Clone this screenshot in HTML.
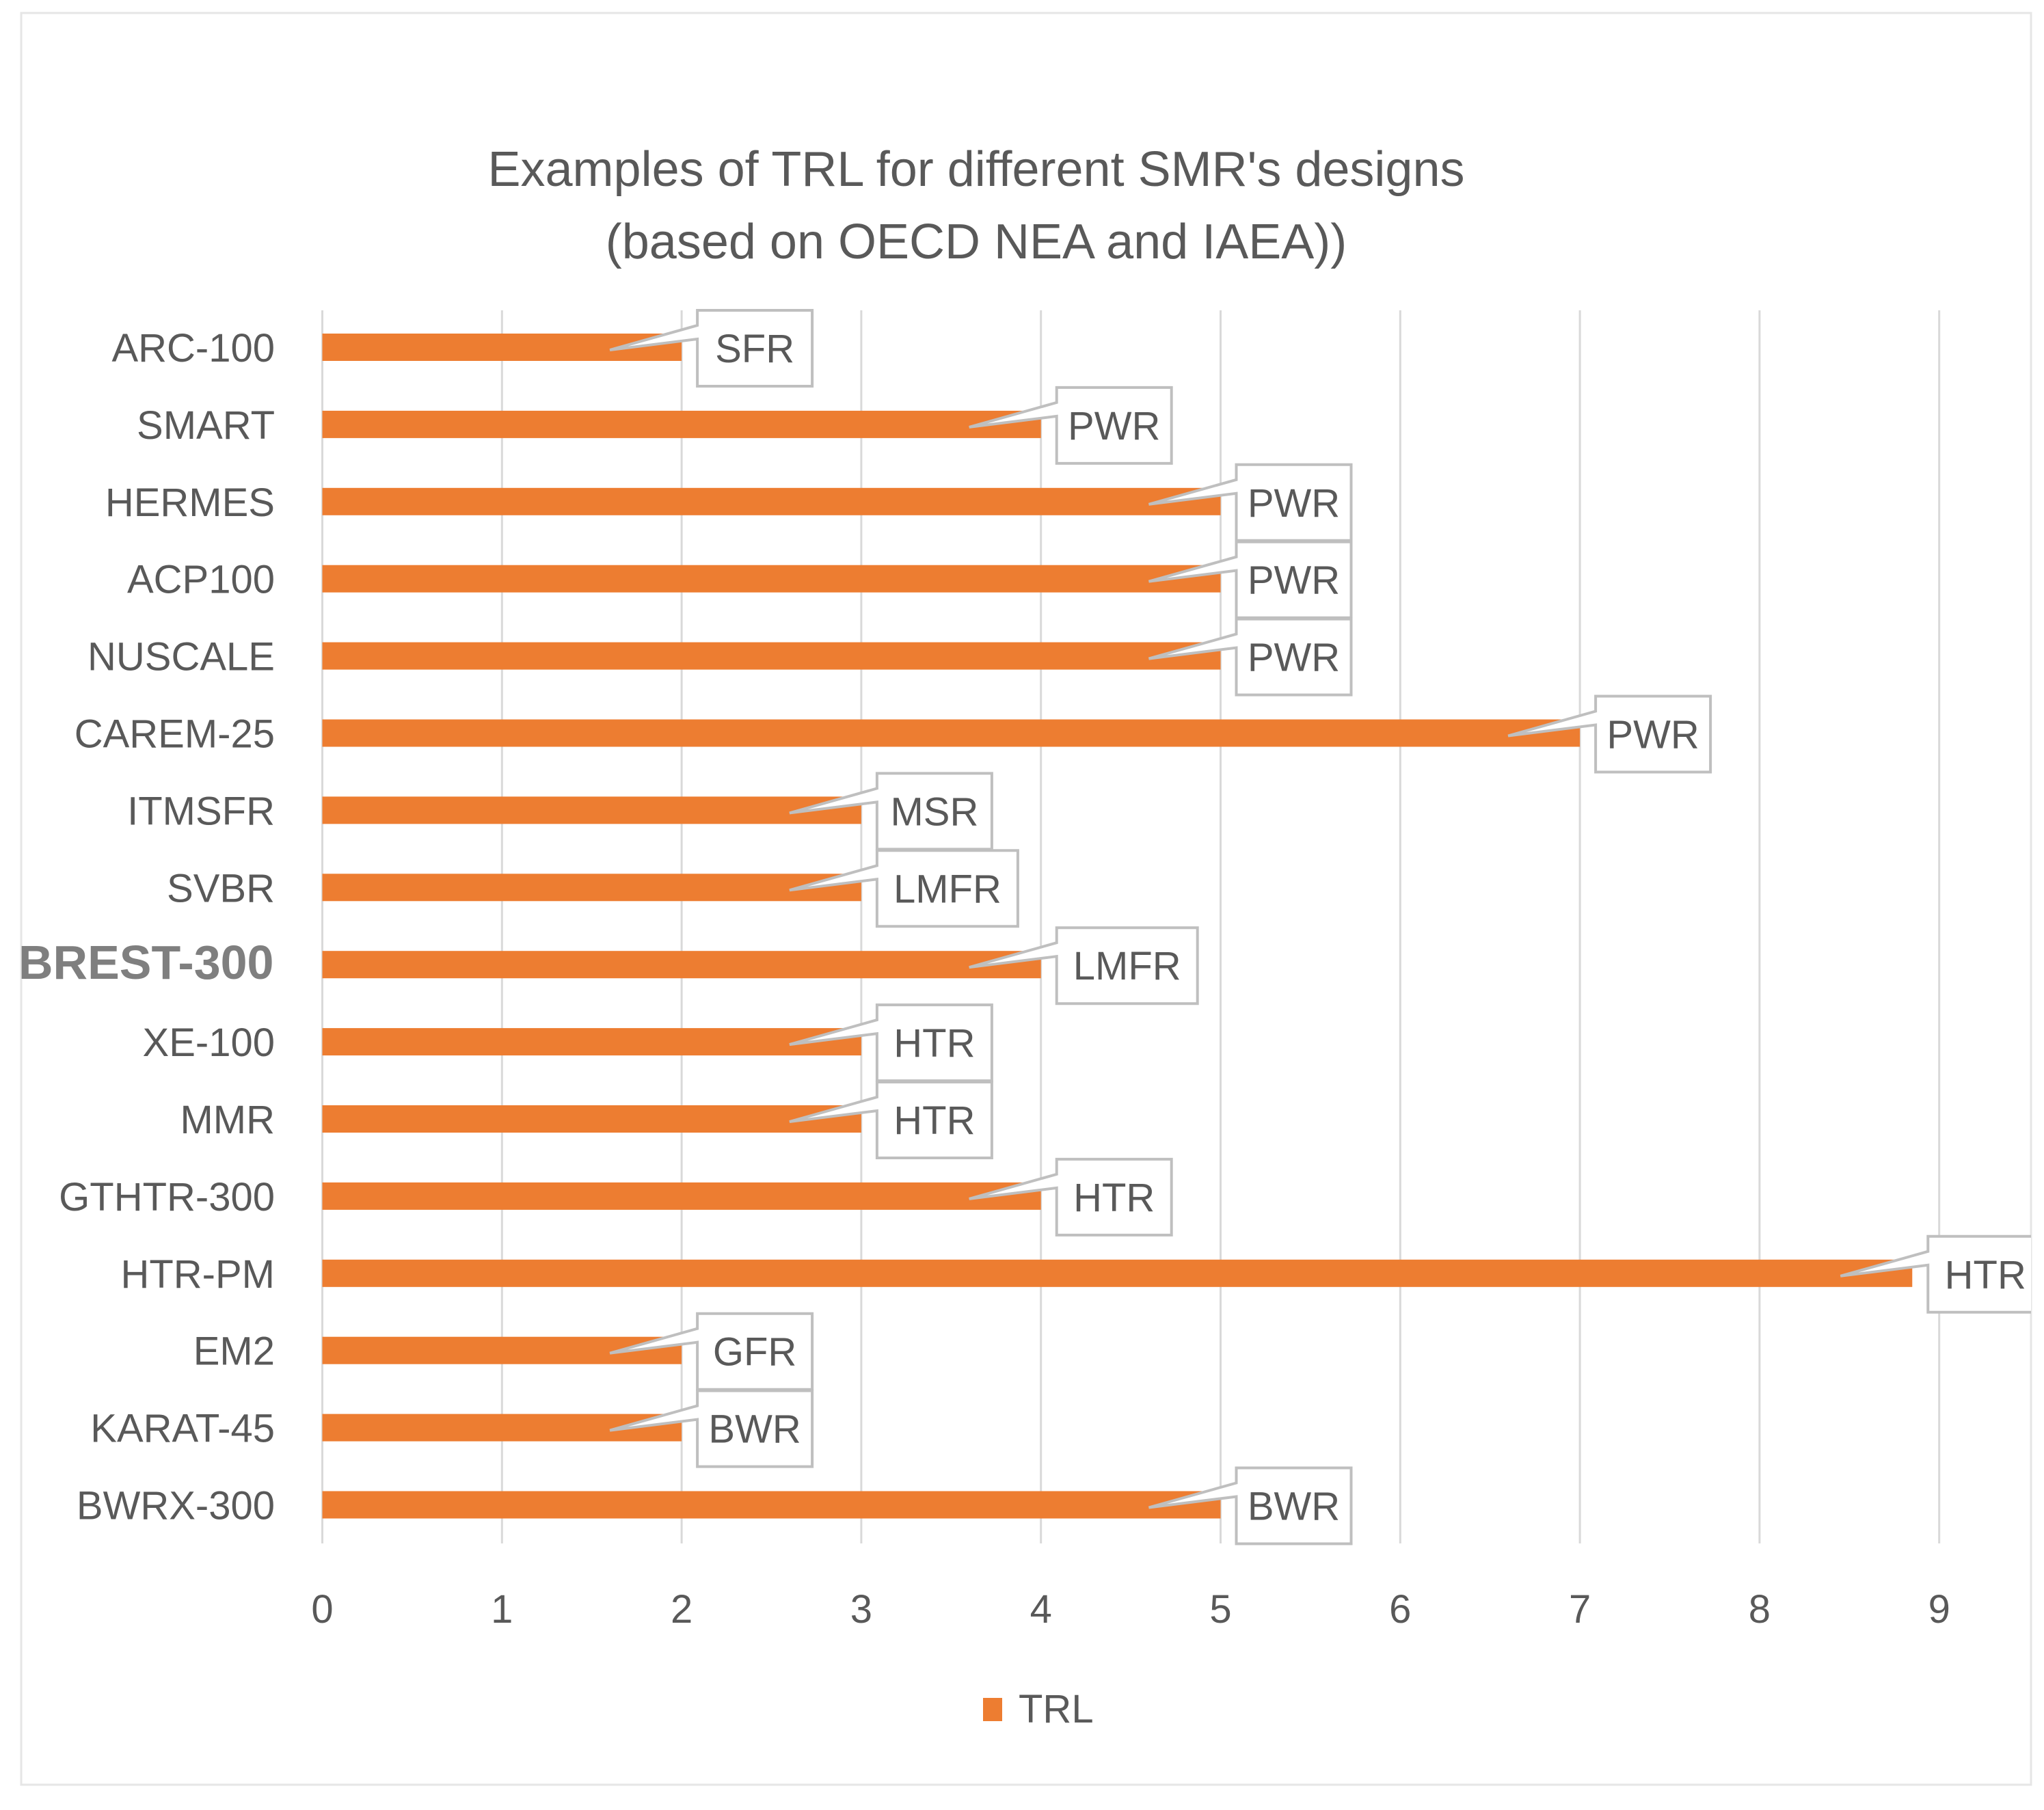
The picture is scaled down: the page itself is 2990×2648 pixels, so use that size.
<!DOCTYPE html>
<html><head><meta charset="utf-8"><style>
html,body{margin:0;padding:0;background:#fff;}
svg{display:block;font-family:"Liberation Sans",sans-serif;}
</style></head><body>
<svg id="chart" width="2990" height="2648" viewBox="0 0 2990 2648" xmlns="http://www.w3.org/2000/svg">
<defs><clipPath id="frameclip"><rect x="31" y="19" width="2940" height="2592"/></clipPath></defs>
<rect x="31" y="19" width="2940" height="2592" fill="#fff" stroke="#e6e6e6" stroke-width="3"/>
<text x="1428" y="272" text-anchor="middle" font-size="72" fill="#595959">Examples of TRL for different SMR's designs</text>
<text x="1428" y="378" text-anchor="middle" font-size="72" fill="#595959">(based on OECD NEA and IAEA))</text>
<g id="grid"></g><g id="bars"></g><g id="labels" clip-path="url(#frameclip)"></g><g id="ticks"></g>
<rect x="1438" y="2484" width="28" height="34" fill="#ED7D31"/>
<text x="1490" y="2520" font-size="58" fill="#595959">TRL</text>
</svg>
<script>
const categories = ["ARC-100","SMART","HERMES","ACP100","NUSCALE","CAREM-25","ITMSFR","SVBR","BREST-300","XE-100","MMR","GTHTR-300","HTR-PM","EM2","KARAT-45","BWRX-300"];
const values = [2,4,5,5,5,7,3,3,4,3,3,4,8.85,2,2,5];
const types = ["SFR","PWR","PWR","PWR","PWR","PWR","MSR","LMFR","LMFR","HTR","HTR","HTR","HTR","GFR","BWR","BWR"];
const ticks = [0,1,2,3,4,5,6,7,8,9];
const NS="http://www.w3.org/2000/svg";
const x0=471.5, xStep=262.8, y0=508, yStep=112.9, gridTop=454, gridBot=2258;
const xs=v=>x0+v*xStep, ys=i=>y0+i*yStep;
function mk(tag,attrs,parent){const e=document.createElementNS(NS,tag);for(const k in attrs)e.setAttribute(k,attrs[k]);document.getElementById(parent).appendChild(e);return e;}
ticks.forEach(t=>{
  const l=mk('line',{x1:xs(t),x2:xs(t),y1:gridTop,y2:gridBot,stroke:'#d9d9d9','stroke-width':3},'grid');
  
  
  const tx=mk('text',{x:xs(t),y:2374,'text-anchor':'middle','font-size':58,fill:'#595959'},'ticks');
  tx.textContent=t;
  
  
});
categories.forEach((c,i)=>{
  const cy=ys(i), xe=xs(values[i]);
  const b=mk('rect',{x:x0,y:cy-20,width:xe-x0,height:40,fill:'#ED7D31'},'bars');
  
  
  const bold=c==="BREST-300";
  const lab=mk('text',{'text-anchor':bold?'start':'end',x:bold?27:402,y:cy+21,'font-size':bold?70:58,'font-weight':bold?'bold':'normal',fill:bold?'#7f7f7f':'#595959'},'labels');
  lab.textContent=c;
  
  
  const t=types[i];
  const w=t.length*38+54, bx=xe+23, by=cy-54, bh=111;
  const p=mk('path',{d:`M${bx},${by} L${bx+w},${by} L${bx+w},${by+bh} L${bx},${by+bh} L${bx},${by+42} L${xe-105},${cy+4} L${bx},${by+22} Z`,fill:'#fff',stroke:'#bfbfbf','stroke-width':4},'labels');
  
  
  const tt=mk('text',{x:bx+w/2,y:cy+22,'text-anchor':'middle','font-size':58,fill:'#595959'},'labels');
  tt.textContent=t;
  
  
});
</script>
</body></html>
